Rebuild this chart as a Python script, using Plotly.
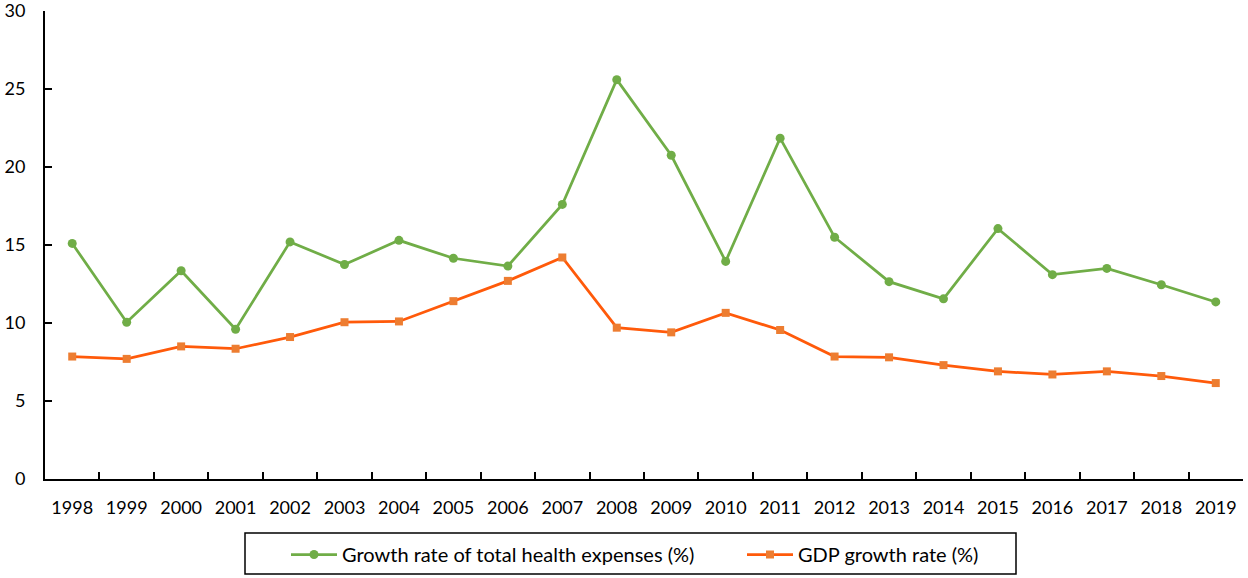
import plotly.graph_objects as go

years = [str(y) for y in range(1998, 2020)]
health = [15.1, 10.05, 13.35, 9.6, 15.2, 13.75, 15.3, 14.15, 13.65, 17.6, 25.6, 20.75,
          13.95, 21.85, 15.5, 12.65, 11.55, 16.05, 13.1, 13.5, 12.45, 11.35]
gdp = [7.85, 7.7, 8.5, 8.35, 9.1, 10.05, 10.1, 11.4, 12.7, 14.2, 9.7, 9.4,
       10.65, 9.55, 7.85, 7.8, 7.3, 6.9, 6.7, 6.9, 6.6, 6.15]
names = ["Growth rate of total health expenses (%)", "GDP growth rate (%)"]
yticks = [0, 5, 10, 15, 20, 25, 30]

fig = go.Figure()
fig.add_trace(go.Scatter(x=years, y=health, name=names[0], mode="lines+markers",
                         line=dict(color="#70AD47", width=2.75),
                         marker=dict(symbol="circle", size=9, color="#70AD47")))
fig.add_trace(go.Scatter(x=years, y=gdp, name=names[1], mode="lines+markers",
                         line=dict(color="#FF5A0A", width=2.75),
                         marker=dict(symbol="square", size=8, color="#ED7D31")))

font = "Lato, Open Sans, sans-serif"
W, H = 1248, 578
L, R, T, B = 45, 5, 11, 99
pw, ph = W - L - R, H - T - B

def px_x(p):
    return (p - L) / pw

def px_y(p):
    return (H - B - p) / ph

fig.update_layout(
    width=W, height=H, autosize=False,
    margin=dict(l=L, r=R, t=T, b=B, pad=0, autoexpand=False),
    paper_bgcolor="white", plot_bgcolor="white",
    font=dict(family=font, size=18, color="#000000"),
    showlegend=True,
    legend=dict(orientation="h", x=px_x(286), xanchor="left", y=px_y(535), yanchor="top",
                borderwidth=0, font=dict(size=20), itemwidth=46,
                entrywidth=395, entrywidthmode="pixels", bgcolor="rgba(0,0,0,0)"),
    xaxis=dict(type="category", range=[-0.5, 21.5], showgrid=False, showline=True,
               linecolor="black", linewidth=2, tickangle=0,
               ticks="inside", tickson="boundaries", ticklen=7, tickwidth=1.5, tickcolor="black",
               ticklabelstandoff=11, zeroline=False, automargin=False),
    yaxis=dict(range=[0, 30], tickvals=yticks, showgrid=False, showline=True, linecolor="black",
               linewidth=2, ticks="inside", ticklen=7, tickwidth=1.5, tickcolor="black",
               ticklabelstandoff=14, ticklabeloverflow="allow", zeroline=False, automargin=False),
    shapes=[dict(type="rect", xref="paper", yref="paper",
                 x0=px_x(245), x1=px_x(1016), y0=px_y(533), y1=px_y(574),
                 line=dict(color="black", width=1.5), fillcolor="rgba(0,0,0,0)")],
)
fig.write_html("out.html", config={"responsive": False, "displayModeBar": False},
               post_script="document.body.style.margin='0';document.body.style.overflow='hidden';")
